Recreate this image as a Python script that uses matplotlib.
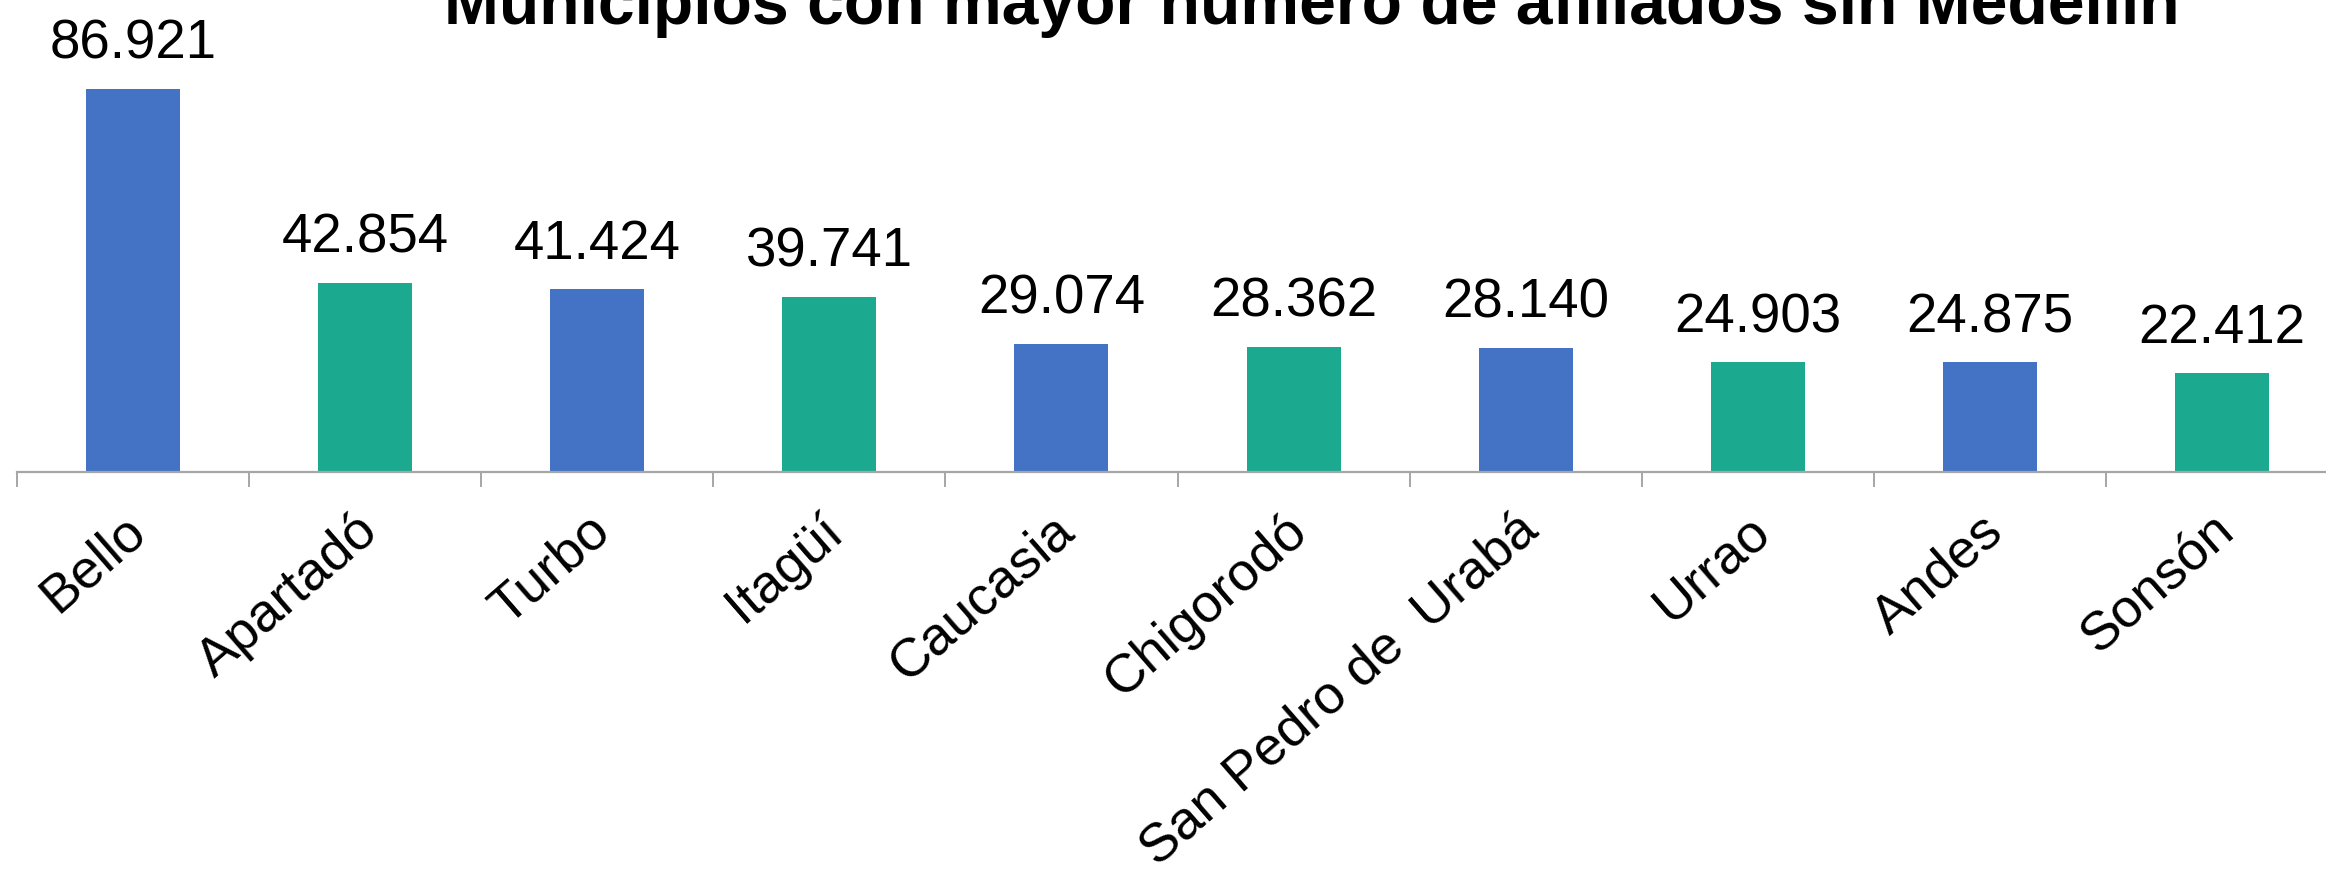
import matplotlib
matplotlib.use("Agg")
import matplotlib.pyplot as plt
import matplotlib.transforms as mtransforms
import numpy as np

categories = ["Bello", "Apartadó", "Turbo", "Itagüí", "Caucasia", "Chigorodó",
              "San Pedro de  Urabá", "Urrao", "Andes", "Sonsón"]
values = [86921, 42854, 41424, 39741, 29074, 28362, 28140, 24903, 24875, 22412]
value_labels = ["86.921", "42.854", "41.424", "39.741", "29.074", "28.362",
                "28.140", "24.903", "24.875", "22.412"]
title = "Municipios con mayor número de afiliados sin Medellín"

BLUE = "#4472C4"
TEAL = "#1BA990"
colors = [BLUE if i % 2 == 0 else TEAL for i in range(len(values))]

plt.rcParams['font.family'] = ['Liberation Sans', 'DejaVu Sans']

W, H = 2326, 876
dpi = 100
fig = plt.figure(figsize=(W / dpi, H / dpi), dpi=dpi)
fig.patch.set_facecolor("white")

left_px = 17
cat_px = 232.1
axis_y_px = 472
ax = fig.add_axes([left_px / W, 1 - axis_y_px / H, (cat_px * 10) / W, axis_y_px / H])
ax.set_facecolor("none")

x = np.arange(len(values))
ax.bar(x, values, width=0.405, color=colors, zorder=2)
ax.set_xlim(-0.5, len(values) - 0.5)
ax.set_ylim(0, 107000)

for xi, v, lab in zip(x, values, value_labels):
    ax.annotate(lab, (xi, v), xytext=(0, 21.6), textcoords="offset points",
                ha="center", va="baseline", fontsize=39.3, color="black")

for s in ["left", "top", "right"]:
    ax.spines[s].set_visible(False)
ax.spines["bottom"].set_color("#A6A6A6")
ax.spines["bottom"].set_linewidth(1.6)
ax.yaxis.set_visible(False)

ax.set_xticks(x)
ax.set_xticklabels(categories, rotation=41, ha="right", rotation_mode="anchor",
                   fontsize=39, va="center")
ax.tick_params(axis="x", which="major", length=0, pad=37.4)
shift = mtransforms.ScaledTranslation(6 / dpi, 0, fig.dpi_scale_trans)
for lbl in ax.get_xticklabels():
    lbl.set_transform(lbl.get_transform() + shift)
ax.set_xticks(np.arange(-0.5, len(values) + 0.5, 1.0), minor=True)
ax.tick_params(axis="x", which="minor", length=10.8, width=1.4, color="#A6A6A6",
               direction="out")

fig.text(1312 / W, 1 - 24 / H, title, ha="center", va="baseline",
         fontsize=47.5, fontweight="bold", color="black")

fig.savefig("out.png", dpi=dpi, facecolor="white")
